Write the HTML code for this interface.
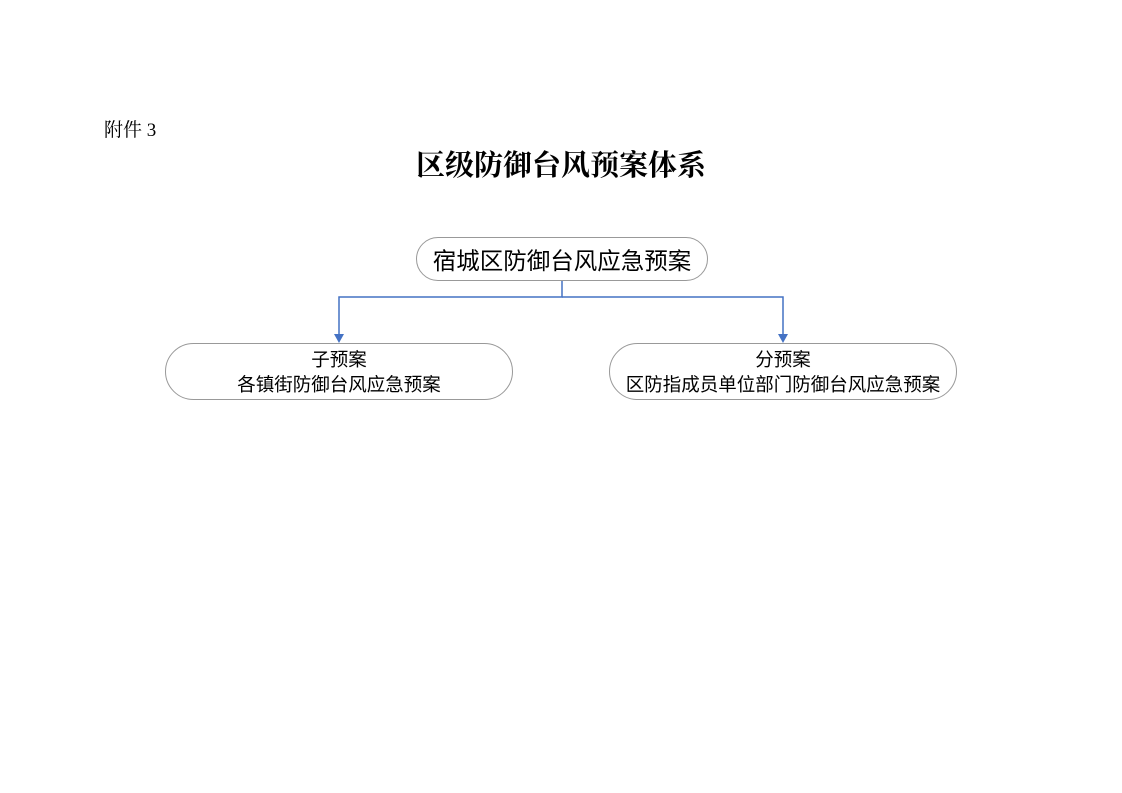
<!DOCTYPE html>
<html><head><meta charset="utf-8"><style>
body{margin:0;width:1122px;height:793px;background:#fff;position:relative;overflow:hidden;font-family:"Liberation Sans","Noto Sans CJK SC",sans-serif;color:#000}
.a{position:absolute}
.box{position:absolute;border:1px solid #999;border-radius:30px;background:#fff;text-align:center;box-sizing:border-box;display:flex;flex-direction:column;justify-content:center}
</style></head><body>
<div class="a" style="left:104px;top:115px;font-size:19px;font-family:'Liberation Serif','Noto Serif CJK SC',serif">附件 3</div>
<div class="a" style="left:0;width:1122px;top:143px;text-align:center;font-size:29px;font-weight:bold;font-family:'Liberation Serif','Noto Serif CJK SC',serif">区级防御台风预案体系</div>
<svg class="a" style="left:0;top:0" width="1122" height="793">
<polyline points="562,281 562,297 339,297 339,336" fill="none" stroke="#4472c4" stroke-width="1.5"/>
<polyline points="562,297 783,297 783,336" fill="none" stroke="#4472c4" stroke-width="1.5"/>
<polygon points="334,334 344,334 339,343" fill="#4472c4"/>
<polygon points="778,334 788,334 783,343" fill="#4472c4"/>
</svg>
<div class="box" style="left:416px;top:237px;width:292px;height:44px;font-size:23.5px;border-radius:22px">宿城区防御台风应急预案</div>
<div class="box" style="left:165px;top:343px;width:348px;height:57px;font-size:18.5px;line-height:25px">子预案<br>各镇街防御台风应急预案</div>
<div class="box" style="left:609px;top:343px;width:348px;height:57px;font-size:18.5px;line-height:25px">分预案<br>区防指成员单位部门防御台风应急预案</div>
</body></html>
